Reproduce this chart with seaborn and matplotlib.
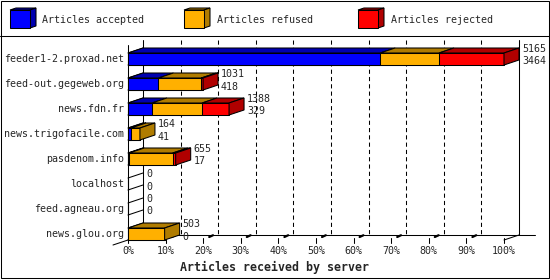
import matplotlib
matplotlib.use("Agg")
import matplotlib.pyplot as plt
import seaborn as sns
import pandas as pd
import numpy as np
from matplotlib.patches import Polygon, Rectangle
from matplotlib.lines import Line2D

# ---------------- data ----------------
servers = ["feeder1-2.proxad.net", "feed-out.gegeweb.org", "news.fdn.fr",
           "news.trigofacile.com", "pasdenom.info", "localhost",
           "feed.agneau.org", "news.glou.org"]
offered = [5165, 1031, 1388, 164, 655, 0, 0, 503]
accepted = [3464, 418, 329, 41, 17, 0, 0, 0]
refused = [808, 588, 688, 123, 597, 0, 0, 503]
rejected = [893, 25, 371, 0, 41, 0, 0, 0]
series_names = ["Articles accepted", "Articles refused", "Articles rejected"]
xtick_labels = ["0%", "10%", "20%", "30%", "40%", "50%", "60%", "70%", "80%", "90%", "100%"]
xlabel = "Articles received by server"

front_colors = ["#0000FF", "#FFB000", "#FF0000"]
dark_colors = ["#0000B0", "#B07C00", "#B00000"]

# ---------------- setup ----------------
sns.set_style("white")
plt.rcParams["font.family"] = ["DejaVu Sans Mono", "DejaVu Sans"]
W, H = 550, 280
fig = plt.figure(figsize=(W / 100, H / 100), dpi=100)
ax = fig.add_axes([0, 0, 1, 1])

X0, PXP = 128.0, 3.76      # pixel of 0%, pixels per percent
Y0, PXR = 59.0, 25.0       # pixel of first row centre, pixels per row
DX, DY = 15 / PXP, -5 / PXR  # depth offset in data units
HALF = 6 / PXR
LW = 0.75

mx = max(offered)
pa = np.array(accepted) / mx * 100
pr = np.array(refused) / mx * 100
pj = np.array(rejected) / mx * 100
tot = pa + pr + pj

df = pd.DataFrame({"server": servers, "acc": pa, "accref": pa + pr, "tot": tot})

for col, c in zip(["tot", "accref", "acc"], front_colors[::-1]):
    sns.barplot(data=df, x=col, y="server", orient="h", color=c, saturation=1,
                edgecolor="black", linewidth=LW, width=2 * HALF, errorbar=None,
                ax=ax, zorder=3)

ax.set_xlim(-X0 / PXP, (W - X0) / PXP)
ax.set_ylim((H - Y0) / PXR, -Y0 / PXR)
ax.axis("off")

n = len(servers)
ytop_back = (40 - Y0) / PXR
ybot_front = n - 1 + HALF
ybot_back = ybot_front + DY

# back wall / gridlines
ax.add_line(Line2D([DX, DX], [ytop_back, ybot_back], color="black", lw=LW, zorder=1))
ax.add_line(Line2D([100 + DX, 100 + DX], [ytop_back, ybot_back], color="black", lw=LW, zorder=1))
for p in range(10, 100, 10):
    ax.add_line(Line2D([p + DX, p + DX], [ytop_back, ybot_back], color="black", lw=LW,
                       ls=(0, (4, 3)), zorder=1))
ax.add_line(Line2D([DX, (535 - X0) / PXP], [ybot_back, ybot_back], color="black", lw=LW, zorder=1))
# front wall
ax.add_line(Line2D([0, 0], [(45 - Y0) / PXR, ybot_front], color="black", lw=LW, zorder=2))
# wall slants for each row
for i in range(n):
    for yy in (i - HALF, i + HALF):
        ax.add_line(Line2D([0, DX], [yy, yy + DY], color="black", lw=LW, zorder=2))
# floor left slant
ax.add_line(Line2D([-DX, DX], [ybot_front - DY, ybot_back], color="black", lw=LW, zorder=2))
# ticks
for k, p in enumerate(range(0, 101, 10)):
    ax.add_line(Line2D([p, p], [ybot_front - 0.08, ybot_front + 0.12], color="black", lw=LW, zorder=2))
    if p == 100:
        ax.add_line(Line2D([p, p + DX], [ybot_front, ybot_back], color="black", lw=LW, zorder=2))
    elif p > 0:
        ax.add_line(Line2D([p + 1.6, p + 2.6], [ybot_front - 0.12, ybot_front - 0.19],
                           color="black", lw=1.6, zorder=2))
    ax.text(p, (251 - Y0) / PXR, xtick_labels[k], ha="center", va="center", fontsize=7.2)

# 3D faces of bars
for i in range(n):
    segs = [(0, pa[i]), (pa[i], pa[i] + pr[i]), (pa[i] + pr[i], tot[i])]
    yt, yb = i - HALF, i + HALF
    last = None
    for s, (a, b) in enumerate(segs):
        if b - a <= 0:
            continue
        last = s
        ax.add_patch(Polygon([(a, yt), (b, yt), (b + DX, yt + DY), (a + DX, yt + DY)],
                             closed=True, facecolor=dark_colors[s], edgecolor="black",
                             lw=LW, zorder=4))
    if last is not None:
        e = tot[i]
        ax.add_patch(Polygon([(e, yt), (e, yb), (e + DX, yb + DY), (e + DX, yt + DY)],
                             closed=True, facecolor=dark_colors[last], edgecolor="black",
                             lw=LW, zorder=4))
    # labels
    ax.text(-1.06, i, servers[i], ha="right", va="center", fontsize=7.2)
    tx = tot[i] + DX + 0.8
    ax.text(tx, i - 0.4, str(offered[i]), ha="left", va="center", fontsize=7.2)
    ax.text(tx, i + 0.1, str(accepted[i]), ha="left", va="center", fontsize=7.2)

fig.text(275 / W, 1 - 267 / H, xlabel, ha="center", va="center", fontsize=8.4,
         fontweight="bold")

# ---------------- legend ----------------
def fp(x, y):
    return (x / W, 1 - y / H)

for (bx, tx), fc, dc, name in zip([(10, 42), (184, 217), (358, 391)], front_colors,
                                  dark_colors, series_names):
    x1, x2, y1, y2 = bx, bx + 20, 10, 28
    d = 6; dv = 2
    fig.patches.append(Polygon([fp(x1, y1), fp(x1 + d, y1 - dv), fp(x2 + d, y1 - dv), fp(x2, y1)],
                               closed=True, facecolor=dc, edgecolor="black", lw=LW,
                               transform=fig.transFigure, figure=fig))
    fig.patches.append(Polygon([fp(x2, y1), fp(x2 + d, y1 - dv), fp(x2 + d, y2 - dv), fp(x2, y2)],
                               closed=True, facecolor=dc, edgecolor="black", lw=LW,
                               transform=fig.transFigure, figure=fig))
    fig.patches.append(Polygon([fp(x1, y1), fp(x2, y1), fp(x2, y2), fp(x1, y2)],
                               closed=True, facecolor=fc, edgecolor="black", lw=LW,
                               transform=fig.transFigure, figure=fig))
    fig.text(tx / W, 1 - 20 / H, name, ha="left", va="center", fontsize=7.2)

# frame
fig.patches.append(Rectangle(fp(0.5, 277.5), 548 / W, 277 / H, fill=False,
                             edgecolor="black", lw=LW, transform=fig.transFigure, figure=fig))
fig.lines.append(Line2D([0, 549 / W], [1 - 35.5 / H, 1 - 35.5 / H], color="black", lw=LW,
                        transform=fig.transFigure, figure=fig))

fig.savefig("out.png", dpi=100)
